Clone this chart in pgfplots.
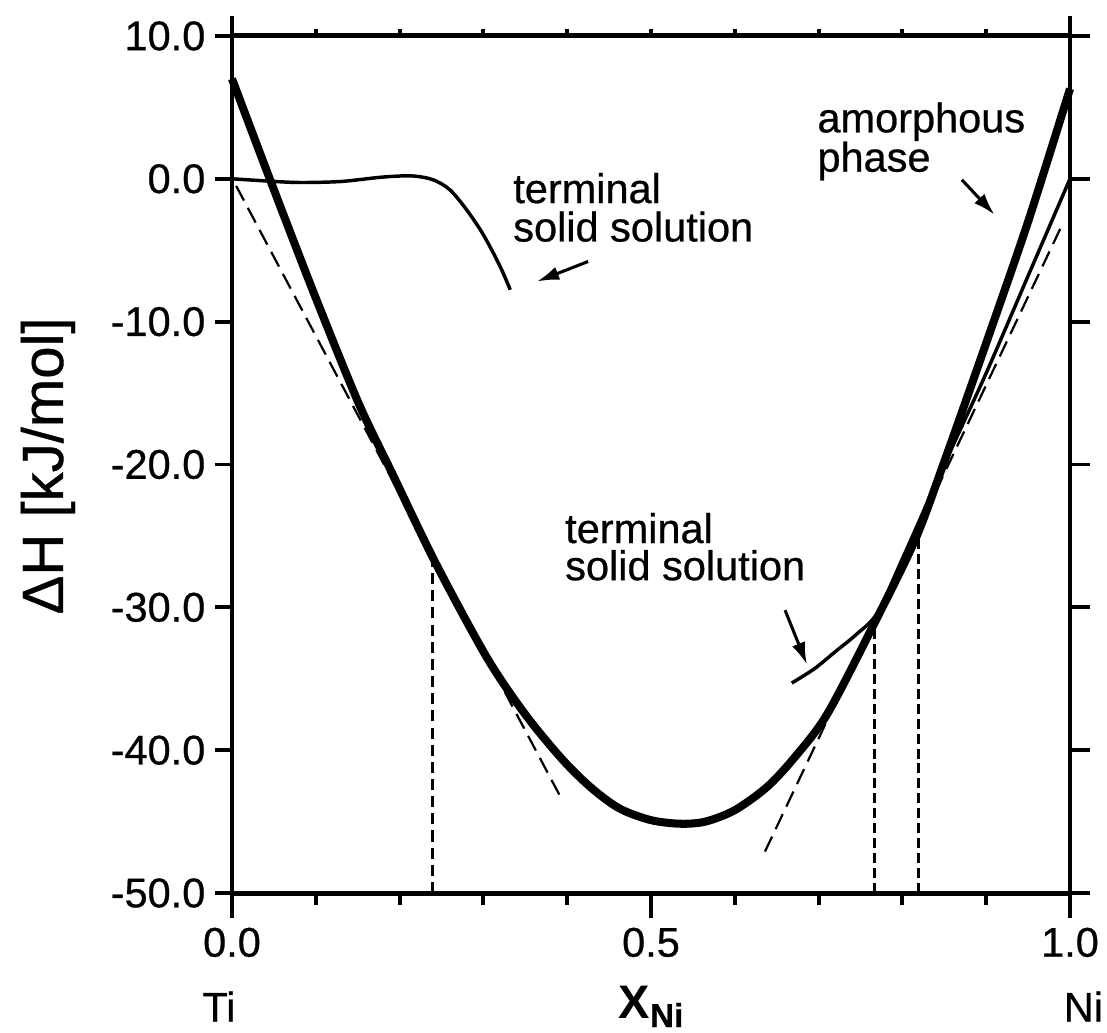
\documentclass[border=0pt]{standalone}
\usepackage{fontspec}
\setmainfont{Liberation Sans}
\newfontfamily\heavy{Liberation Sans}[FakeBold=0.6]
\usepackage{pgfplots}
\pgfplotsset{compat=1.18}
\usetikzlibrary{arrows.meta}

\pgfplotsset{
  frame/.style={
    at={(0,0)}, anchor=south west, scale only axis,
    width=302.8pt, height=309.7pt,
    xmin=0, xmax=1, ymin=-50, ymax=10,
    tick align=outside,
    every tick/.style={black, line width=1.4pt},
    tick label style={font=\heavy\fontsize{15}{18}\selectfont},
  },
}

\begin{document}
\begin{tikzpicture}
\useasboundingbox (-83.83pt,-50.23pt) rectangle (316.17pt,322.68pt);

% main axis: box, curves, bottom ticks
\begin{axis}[frame,
  clip=false,
  axis line style={line width=1.8pt},
  xtick pos=bottom, ytick=\empty,
  xtick={0,0.5,1}, xticklabels={0.0,0.5,1.0},
  minor xtick={0.1,0.2,0.3,0.4,0.6,0.7,0.8,0.9},
  major tick length=9pt, minor tick length=4.5pt,
]
% tangent lines
\addplot[black, line width=0.8pt, dash pattern=on 6pt off 3pt] coordinates {(0.005,-0.5)(0.395,-43.6)};
\addplot[black, line width=0.8pt, dash pattern=on 6pt off 3pt] coordinates {(0.636,-47.1)(0.990,-3.3)};
% drop lines
\addplot[black, line width=0.9pt, dash pattern=on 4pt off 2.2pt] coordinates {(0.239,-50)(0.239,-26.6)};
\addplot[black, line width=0.9pt, dash pattern=on 3.6pt off 1.8pt] coordinates {(0.767,-50)(0.767,-31.3)};
\addplot[black, line width=0.9pt, dash pattern=on 3.6pt off 1.8pt] coordinates {(0.819,-50)(0.819,-25.0)};
% terminal solid solution, Ti side
\addplot[black, line width=1.25pt, smooth] coordinates {
  (0.0,0.0)(0.04,-0.15)(0.08,-0.26)(0.13,-0.19)(0.18,0.12)(0.215,0.2)
  (0.24,-0.07)(0.26,-0.77)(0.28,-2.17)(0.30,-3.92)(0.32,-6.14)(0.332,-7.77)
};
% terminal solid solution, Ni side
\addplot[black, line width=1.25pt, smooth] coordinates {
  (0.668,-35.3)(0.695,-34.3)(0.72,-33.1)(0.745,-31.9)(0.77,-30.4)(0.80,-26.6)
  (0.85,-20.0)(0.90,-13.6)(0.95,-6.8)(1.0,0.0)
};
% amorphous phase
\addplot[black, line width=2.9pt, smooth] coordinates {
  (0.0,7.0)(0.047,-0.3)(0.099,-8.2)(0.151,-15.7)(0.191,-20.6)(0.243,-26.9)
  (0.304,-33.5)(0.35,-37.5)(0.395,-40.7)(0.43,-42.7)(0.463,-44.1)(0.50,-44.9)
  (0.535,-45.15)(0.565,-45.0)(0.60,-44.2)(0.638,-42.6)(0.67,-40.6)(0.710,-37.5)
  (0.765,-31.3)(0.815,-25.3)(0.85,-19.8)(0.9,-11.5)(0.95,-3.0)(1.0,6.3)
};

% annotations
\def\ann{\heavy\fontsize{15}{18}\selectfont}
\node[anchor=base west, font=\ann, inner sep=0pt, text depth=0pt] at (axis cs:0.335,-1.70) {terminal};
\node[anchor=base west, font=\ann, inner sep=0pt] at (axis cs:0.335,-4.39) {solid solution};
\node[anchor=base west, font=\ann, inner sep=0pt, text depth=0pt] at (axis cs:0.698,3.25) {amorphous};
\node[anchor=base west, font=\ann, inner sep=0pt] at (axis cs:0.698,0.50) {phase};
\node[anchor=base west, font=\ann, inner sep=0pt, text depth=0pt] at (axis cs:0.397,-25.5) {terminal};
\node[anchor=base west, font=\ann, inner sep=0pt] at (axis cs:0.397,-28.1) {solid solution};

\draw[-{Latex[length=8pt,width=5pt]}, line width=1.1pt] (axis cs:0.425,-5.79) -- (axis cs:0.364,-7.19);
\draw[-{Latex[length=8pt,width=5pt]}, line width=1.1pt] (axis cs:0.871,-0.07) -- (axis cs:0.910,-2.52);
\draw[-{Latex[length=8pt,width=5pt]}, line width=1.1pt] (axis cs:0.660,-30.2) -- (axis cs:0.686,-34.0);

% axis labels
\node[rotate=90, anchor=base, font=\heavy\fontsize{21}{24}\selectfont, inner sep=0pt] at (axis cs:-0.2017,-20.1) {ΔH [kJ/mol]};
\node[anchor=base, font=\heavy\fontsize{15}{18}\selectfont, inner sep=0pt] at (axis cs:-0.0155,-59.0) {Ti};
\node[anchor=base, font=\heavy\fontsize{15}{18}\selectfont, inner sep=0pt] at (axis cs:1.016,-59.0) {Ni};
\node[anchor=base, inner sep=0pt] at (axis cs:0.5,-58.8) {\fontsize{17}{20}\selectfont\bfseries X\raisebox{-3pt}{\heavy\fontsize{12}{14}\selectfont Ni}};
\end{axis}

% left y ticks with labels
\begin{axis}[frame,
  axis line style={draw=none},
  xtick=\empty, ytick pos=left,
  ytick={-50,-40,-30,-20,-10,0,10},
  yticklabels={-50.0,-40.0,-30.0,-20.0,-10.0,0.0,10.0},
  major tick length=6.1pt,
]
\end{axis}

% top and right ticks
\begin{axis}[frame,
  axis line style={draw=none},
  xtick pos=top, ytick pos=right,
  xtick={0,1}, minor xtick={0.1,0.2,0.3,0.4,0.5,0.6,0.7,0.8,0.9},
  ytick={-50,-40,-30,-20,-10,0,10},
  xticklabels={}, yticklabels={},
  major tick length=7.2pt, minor tick length=2.5pt,
]
\end{axis}
\end{tikzpicture}
\end{document}
